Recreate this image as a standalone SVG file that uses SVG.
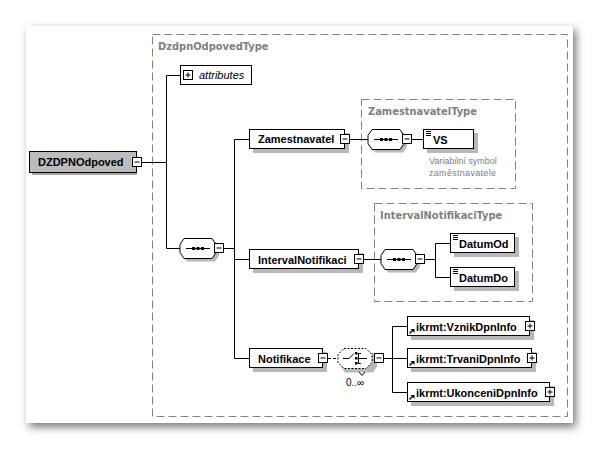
<svg xmlns="http://www.w3.org/2000/svg" xmlns:xlink="http://www.w3.org/1999/xlink" width="600" height="450" viewBox="0 0 600 450">
<style>
.ln{stroke:#000;stroke-width:1;fill:none}
.box{fill:#fff;stroke:#000;stroke-width:1}
.sh{fill:#b8b8b8}
.type{fill:none;stroke:#808080;stroke-width:1;stroke-dasharray:8,4}
.tlabel{font-family:"DejaVu Sans Condensed","Liberation Sans",sans-serif;font-size:11px;font-weight:bold;fill:#808080}
.name{font-family:"Liberation Sans",Arial,sans-serif;font-size:11px;font-weight:bold;fill:#000}
.desc{font-family:"Liberation Sans",Arial,sans-serif;font-size:9px;fill:#808080}
</style>
<defs>
<filter id="blur" x="-10%" y="-10%" width="120%" height="120%"><feGaussianBlur stdDeviation="4"/></filter>
<g id="minus"><rect x="0.5" y="0.5" width="9" height="9" fill="#fff" stroke="#000"/><line x1="2.5" y1="5" x2="7.5" y2="5" stroke="#000"/></g>
<g id="plus"><rect x="0.5" y="0.5" width="9" height="9" fill="#fff" stroke="#000"/><line x1="2.5" y1="5" x2="7.5" y2="5" stroke="#000"/><line x1="5" y1="2.5" x2="5" y2="7.5" stroke="#000"/></g>
<g id="seq">
<path d="M9,3.5 H37 L41,9.5 V17.5 L37,23.5 H9 L5,17.5 V9.5 Z" fill="#b8b8b8"/>
<path d="M6,0.5 H34 L38,6.5 V14.5 L34,20.5 H6 L2,14.5 V6.5 Z" fill="#fff" stroke="#000"/>
<line x1="8" y1="10.5" x2="32" y2="10.5" stroke="#000"/>
<rect x="14" y="9" width="3" height="3" fill="#000"/><rect x="18.5" y="9" width="3" height="3" fill="#000"/><rect x="23" y="9" width="3" height="3" fill="#000"/>
</g>
<path id="elicon" d="M0,0.5 H5 M0,2.5 H5 M0,4.5 H5" stroke="#000" stroke-width="1" fill="none"/>
<g id="ref"><path d="M0.5,5.5 L4.5,1.5" stroke="#000" stroke-width="1.2"/><path d="M1.5,1 H5.5 V5 Z" fill="#000"/></g>
</defs>

<!-- page -->
<rect x="29" y="30" width="547" height="397" fill="#777" filter="url(#blur)"/>
<rect x="26" y="26" width="547" height="397" fill="#fff"/>

<!-- type containers -->
<g id="DzdpnOdpovedType">
<rect x="152.5" y="34.5" width="415" height="382" fill="#ffffcc" class="type"/>
<text x="158" y="50" class="tlabel">DzdpnOdpovedType</text>
</g>
<g id="ZamestnavatelType">
<rect x="361.5" y="99.5" width="154" height="89" class="type"/>
<text x="368" y="115" class="tlabel">ZamestnavatelType</text>
<text x="429" y="164" class="desc">Variabilní symbol</text>
<text x="429" y="176" class="desc" letter-spacing="0.3">zaměstnavatele</text>
</g>
<g id="IntervalNotifikaciType">
<rect x="374.5" y="203.5" width="158" height="98" class="type"/>
<text x="380" y="219" class="tlabel">IntervalNotifikaciType</text>
</g>

<!-- connectors -->
<g id="connectors" class="ln">
<path d="M142,162.5 H166.5 M166.5,75.5 V248.5 M166.5,75.5 H180 M166.5,248.5 H180"/>
<path d="M224,248.5 H234.5 M234.5,139.5 V358.5 M234.5,139.5 H249 M234.5,259.5 H249 M234.5,358.5 H249"/>
<path d="M350,139.5 H368 M412,139.5 H423"/>
<path d="M364,259.5 H381 M425,259.5 H435.5 M435.5,243.5 V277.5 M435.5,243.5 H450 M435.5,277.5 H450"/>
<path d="M328,358.5 H338" stroke-dasharray="3,2"/>
<path d="M383,358.5 H392.5 M392.5,326.5 V392.5 M392.5,326.5 H407 M392.5,358.5 H407 M392.5,392.5 H407"/>
</g>

<!-- root -->
<g id="DZDPNOdpoved">
<rect x="32" y="154" width="105" height="21" fill="#a8a8a8"/>
<rect x="29.5" y="151.5" width="107" height="21" fill="#bcbcbc" stroke="#000"/>
<text x="38" y="166" class="name">DZDPNOdpoved</text>
<use href="#minus" x="132" y="157"/>
</g>

<g id="attributes">
<rect x="180.5" y="65.5" width="71" height="19" class="box"/>
<use href="#plus" x="183" y="70"/>
<text x="199" y="79" font-family="'Liberation Sans',Arial,sans-serif" font-size="11" font-style="italic">attributes</text>
</g>

<g id="sequence1">
<use href="#seq" x="178" y="238"/>
<use href="#minus" x="214" y="243"/>
</g>

<g id="Zamestnavatel">
<rect x="253" y="133" width="96" height="20" class="sh"/>
<rect x="249.5" y="129.5" width="95" height="19" class="box"/>
<text x="258" y="143" class="name">Zamestnavatel</text>
<use href="#minus" x="340" y="134"/>
</g>

<g id="sequence2">
<use href="#seq" x="366" y="129"/>
<use href="#minus" x="402" y="134"/>
</g>

<g id="VS">
<rect x="427" y="133" width="51" height="20" class="sh"/>
<rect x="423.5" y="129.5" width="50" height="19" class="box"/>
<use href="#elicon" x="426" y="131"/>
<text x="433" y="144" class="name">VS</text>
</g>

<g id="IntervalNotifikaci">
<rect x="253" y="253" width="110" height="20" class="sh"/>
<rect x="249.5" y="249.5" width="109" height="19" class="box"/>
<text x="258" y="264" class="name">IntervalNotifikaci</text>
<use href="#minus" x="354" y="254"/>
</g>

<g id="sequence3">
<use href="#seq" x="379" y="249"/>
<use href="#minus" x="415" y="254"/>
</g>

<g id="DatumOd">
<rect x="454" y="237" width="65" height="20" class="sh"/>
<rect x="450.5" y="233.5" width="64" height="19" class="box"/>
<use href="#elicon" x="453" y="235"/>
<text x="459" y="248" class="name">DatumOd</text>
</g>

<g id="DatumDo">
<rect x="454" y="271" width="65" height="20" class="sh"/>
<rect x="450.5" y="267.5" width="64" height="19" class="box"/>
<use href="#elicon" x="453" y="269"/>
<text x="459" y="282" class="name">DatumDo</text>
</g>

<g id="Notifikace">
<rect x="253" y="352" width="74" height="20" class="sh"/>
<rect x="249.5" y="348.5" width="73" height="19" class="box"/>
<text x="258" y="363" class="name">Notifikace</text>
<use href="#minus" x="318" y="353"/>
</g>

<g id="choice">
<path d="M345,352.5 H373 L377,358.5 V366.5 L373,372.5 H345 L341,366.5 V358.5 Z" fill="#b8b8b8"/>
<path d="M359,372 L362,375.5 L365,372" fill="none" stroke="#000"/>
<path d="M344,348.5 H366 L372,354.5 V362.5 L366,368.5 H344 L338,362.5 V354.5 Z" fill="#fff" stroke="#000" stroke-dasharray="2,1.5"/>
<path d="M343,358.5 H349 L354,353.5 M358.5,353 V364 M358.5,353.5 H361 M358.5,358.5 H361 M358.5,363.5 H361 M361,358.5 H367" fill="none" stroke="#000"/>
<rect x="355" y="352" width="2.5" height="2.5" fill="#000"/><rect x="355" y="357" width="2.5" height="2.5" fill="#000"/><rect x="355" y="362" width="2.5" height="2.5" fill="#000"/>
<use href="#minus" x="374" y="353"/>
<text x="346" y="386" font-family="'Liberation Sans',Arial,sans-serif" font-size="10" fill="#000">0..∞</text>
</g>

<g id="VznikDpnInfo">
<rect x="411" y="320" width="123" height="20" class="sh"/>
<rect x="407.5" y="316.5" width="122" height="19" class="box"/>
<use href="#ref" x="409" y="328"/>
<text x="416" y="331" class="name">ikrmt:VznikDpnInfo</text>
<use href="#plus" x="525" y="321"/>
</g>

<g id="TrvaniDpnInfo">
<rect x="411" y="352" width="125" height="20" class="sh"/>
<rect x="407.5" y="348.5" width="124" height="19" class="box"/>
<use href="#ref" x="409" y="360"/>
<text x="416" y="363" class="name">ikrmt:TrvaniDpnInfo</text>
<use href="#plus" x="527" y="353"/>
</g>

<g id="UkonceniDpnInfo">
<rect x="411" y="386" width="143" height="20" class="sh"/>
<rect x="407.5" y="382.5" width="142" height="19" class="box"/>
<use href="#ref" x="409" y="394"/>
<text x="416" y="397" class="name">ikrmt:UkonceniDpnInfo</text>
<use href="#plus" x="545" y="387"/>
</g>
</svg>
